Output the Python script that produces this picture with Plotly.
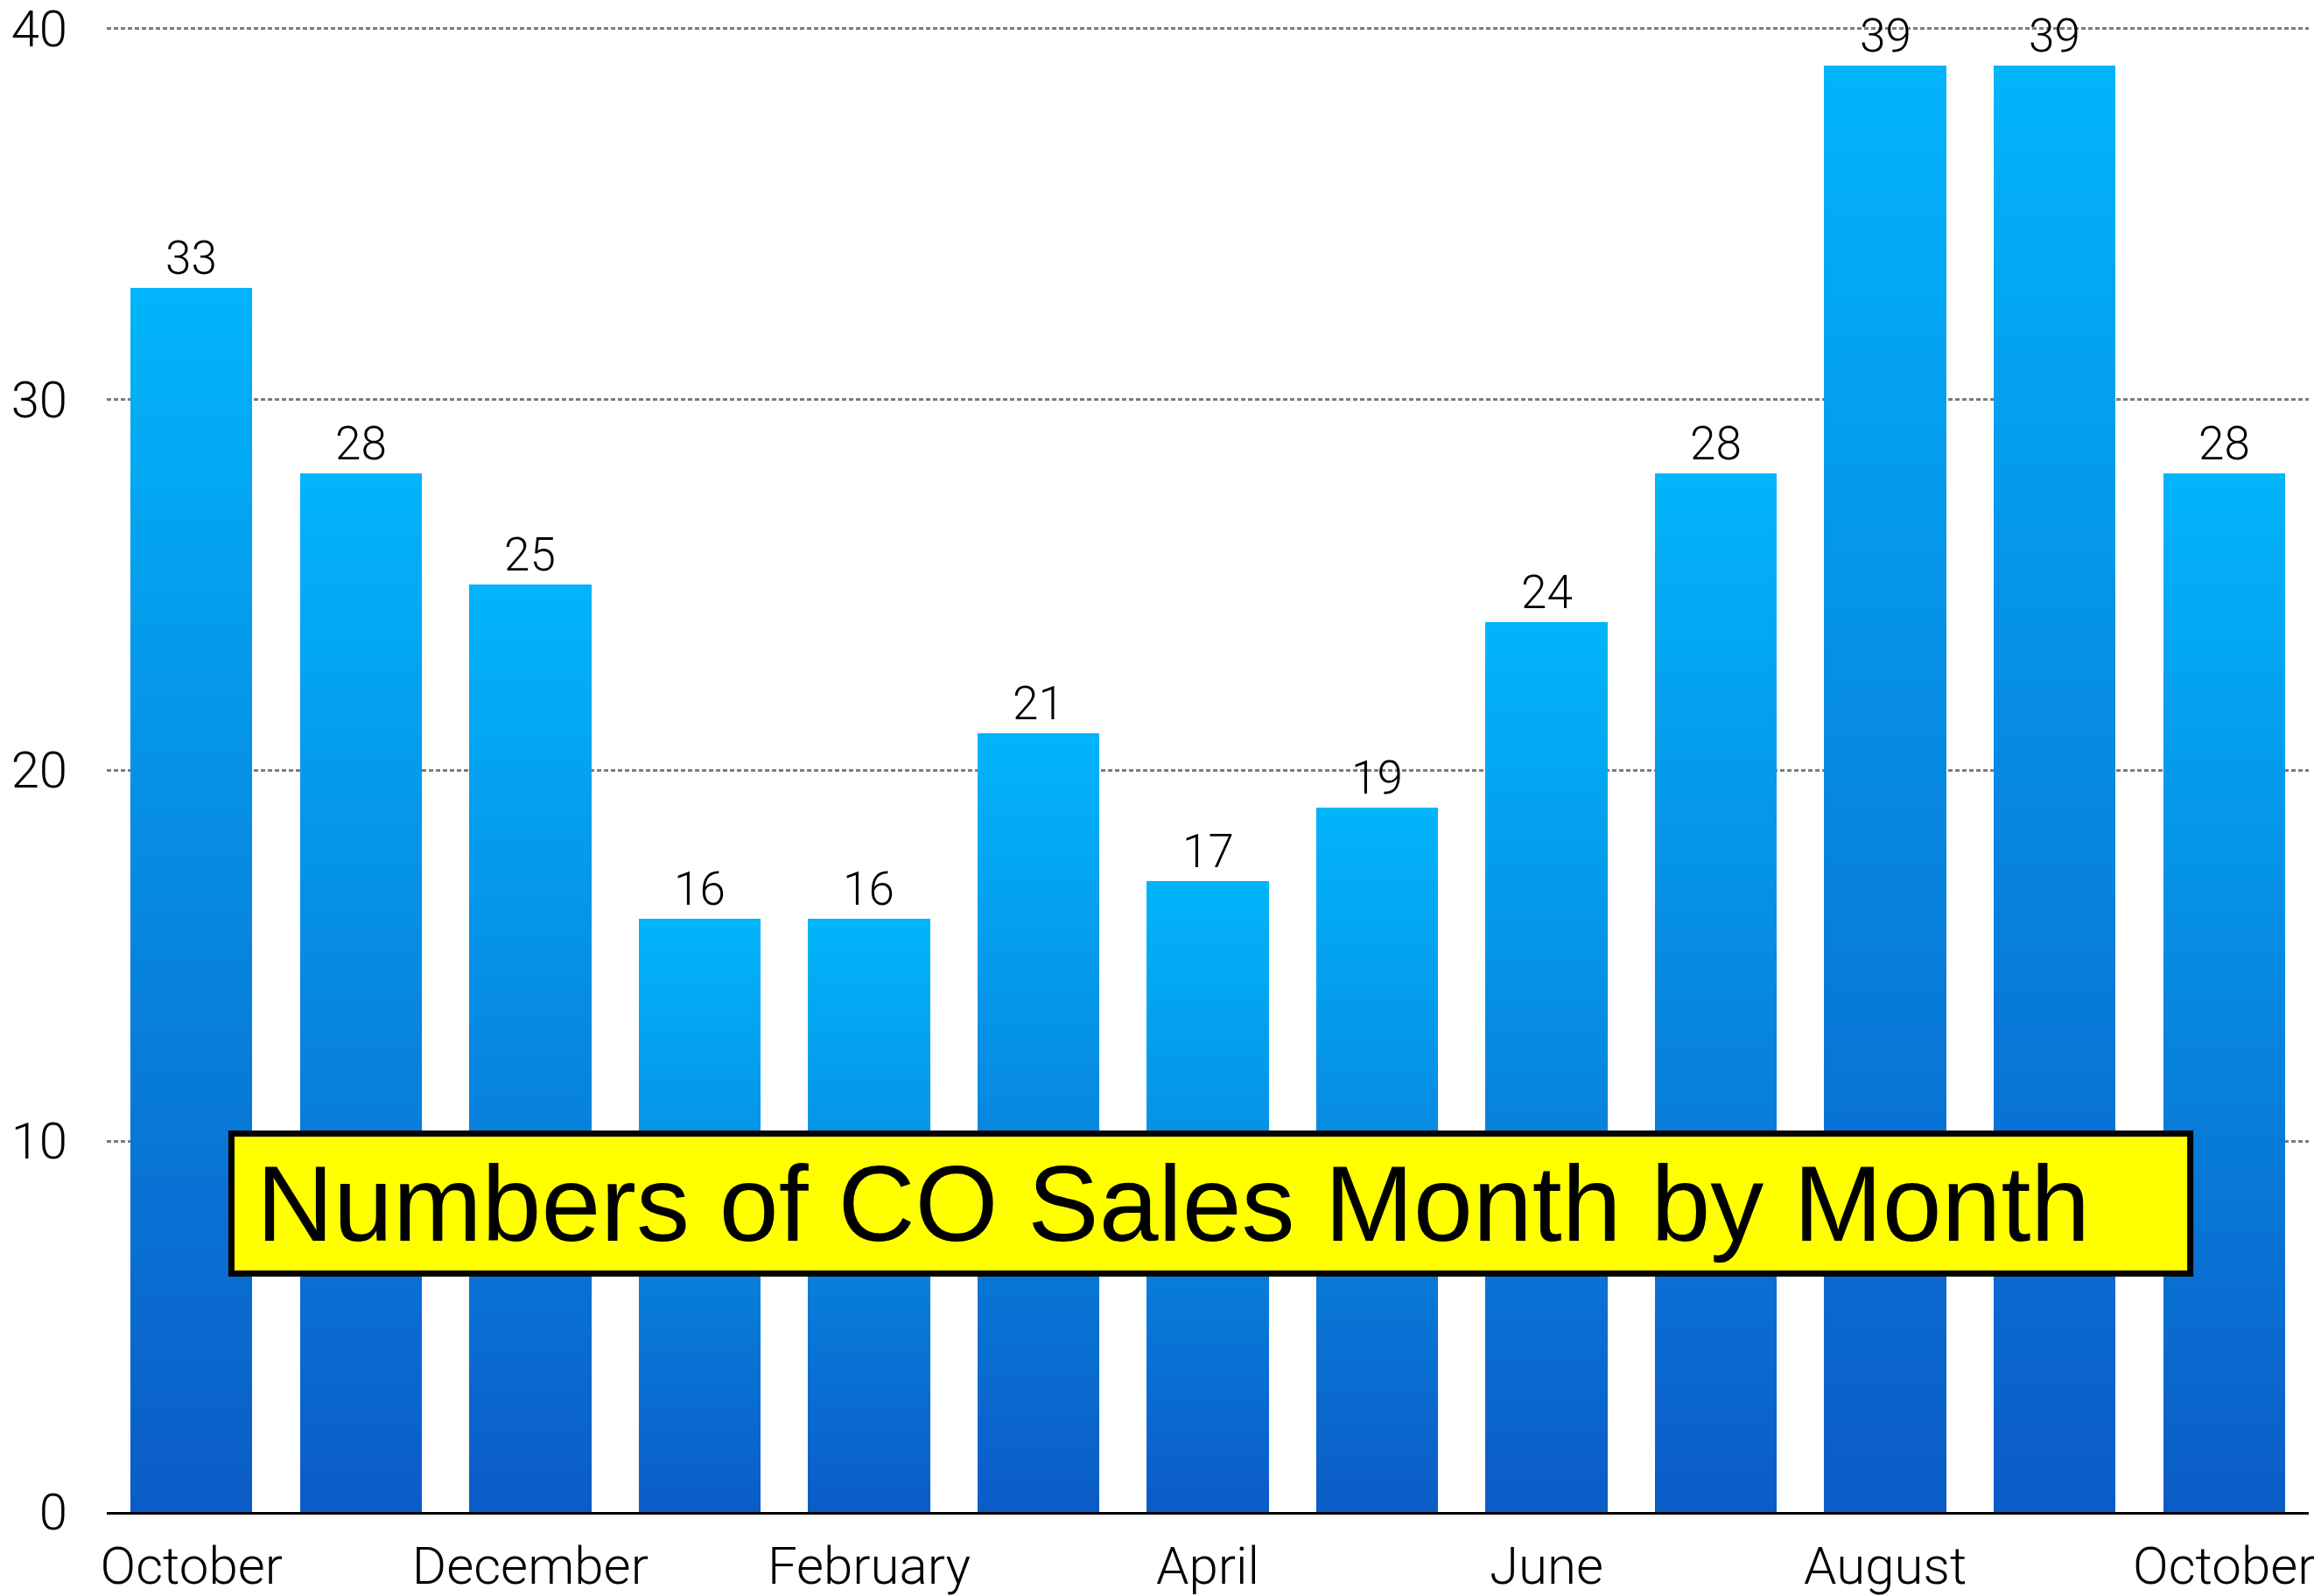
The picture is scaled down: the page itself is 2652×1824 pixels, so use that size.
import plotly.graph_objects as go

# ---- data ----
months = ["October", "November", "December", "January", "February", "March",
          "April", "May", "June", "July", "August", "September", "October"]
sales = [33, 28, 25, 16, 16, 21, 17, 19, 24, 28, 39, 39, 28]
tick_step = 2
y_ticks = [0, 10, 20, 30, 40]
title_text = "Numbers of CO Sales Month by Month"

# ---- styling ----
top_rgb = (2, 180, 250)
bot_rgb = (11, 92, 199)
N_SEG = 80
base_font = "Roboto, Liberation Sans, sans-serif"
ytick_font = dict(family=base_font, size=58, color="black", weight=300)
xtick_font = dict(family=base_font, size=60, color="black", weight=300)

x_pos = list(range(len(sales)))

fig = go.Figure()
# Each bar is built of stacked slices so that every bar gets its own vertical gradient
for k in range(N_SEG):
    t = k / (N_SEG - 1)  # 0 bottom -> 1 top
    c = tuple(round(b + (tp - b) * t) for b, tp in zip(bot_rgb, top_rgb))
    fig.add_trace(go.Bar(
        x=x_pos,
        y=[v / N_SEG for v in sales],
        marker=dict(color="rgb(%d,%d,%d)" % c, line=dict(width=0)),
        showlegend=False,
        hoverinfo="skip",
    ))

for xi, v in zip(x_pos, sales):
    fig.add_annotation(x=xi, y=v, text=str(v), showarrow=False, yanchor="bottom",
                       yshift=1, font=dict(family=base_font, size=53, color="black", weight=300))

# title box
fig.add_shape(type="rect", xref="paper", yref="paper",
              x0=0.0566, x1=0.9462, y0=0.1606, y1=0.2549,
              fillcolor="#FFFF00", line=dict(color="black", width=7), layer="above")
fig.add_annotation(xref="paper", yref="paper", x=0.0672, y=0.2075,
                   xanchor="left", yanchor="middle", showarrow=False,
                   text=title_text,
                   font=dict(family="Liberation Sans, Arial, sans-serif", size=122, color="black"))

# figure is sized to fit inside the page's default 8px body margin
fig.update_layout(
    barmode="stack",
    bargap=0.28,
    width=2644, height=1816,
    margin=dict(l=114, r=14, t=23, b=96),
    plot_bgcolor="white",
    paper_bgcolor="white",
    showlegend=False,
    xaxis=dict(
        range=[-0.5, len(sales) - 0.5],
        tickmode="array",
        tickvals=x_pos[::tick_step],
        ticktext=months[::tick_step],
        showgrid=False, zeroline=False,
        showline=True, linecolor="black", linewidth=3,
        ticks="", tickfont=xtick_font,
        ticklabelstandoff=7,
        ticklabeloverflow="allow",
        automargin=False,
    ),
    yaxis=dict(
        range=[0, 40.03],
        tickmode="array",
        tickvals=y_ticks,
        showgrid=True, gridcolor="#7c7c7c", gridwidth=2.5, griddash="5px,3px",
        zeroline=False, showline=False, ticks="",
        tickfont=ytick_font,
        ticklabelstandoff=44,
        ticklabeloverflow="allow",
        automargin=False,
    ),
)

fig.write_html("out.html")
